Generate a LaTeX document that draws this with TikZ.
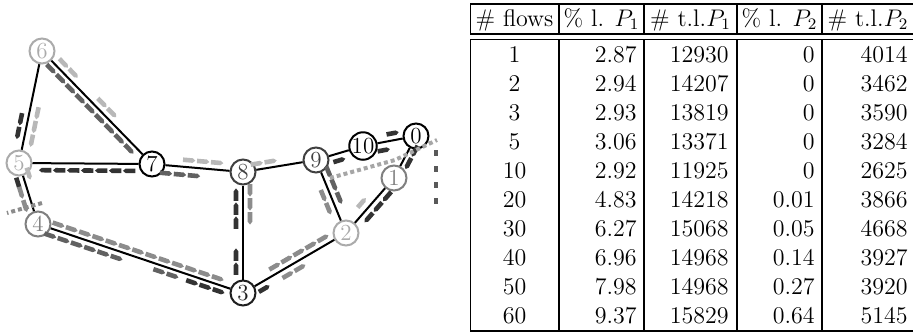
\documentclass[tikz,border=0pt]{standalone}
\usetikzlibrary{calc,decorations.markings}
\tikzset{
  nd/.style={circle, draw, fill=white, line width=1pt, minimum size=12.5pt, inner sep=0pt, font=\fontsize{11.5}{11.5}\selectfont},
  ed/.style={line width=1pt, black},
  arw/.style={decoration={markings, mark=between positions 0 and 1 step 7pt with {\fill[#1] (-3pt,-1.15pt) -- (1.8pt,-1.15pt) -- (3.2pt,0pt) -- (1.8pt,1.15pt) -- (-3pt,1.15pt) -- cycle;}}, decorate},
  fa/.style={arw=black!80},
  fb/.style={arw=black!62},
  fc/.style={arw=black!45},
  fd/.style={arw=black!28},
  fdot/.style={line width=2pt, dash pattern=on 2pt off 1.5pt},
  tl/.style={line width=0.7pt},
  cell/.style={anchor=base, inner sep=0pt, font=\fontsize{12}{14}\selectfont},
  num/.style={anchor=base east, inner sep=0pt, font=\fontsize{12}{14}\selectfont}
}
\newcommand\flw[6]{\path[#1] ($(#2)!#4!(#3)!#6!90:(#3)$) -- ($(#2)!#5!(#3)!#6!90:(#3)$);}
\begin{document}
\begin{tikzpicture}[x=0.5pt,y=-0.5pt]
\useasboundingbox (0,0) rectangle (913,333);
% ---------------- graph nodes
\node[nd, draw=black, text=black] (n0) at (416,136) {0};
\node[nd, draw=black!50, text=black!50] (n1) at (394,178) {1};
\node[nd, draw=black!33, text=black!33] (n2) at (346,233) {2};
\node[nd, draw=black!88, text=black!88] (n3) at (243,293) {3};
\node[nd, draw=black!50, text=black!50] (n4) at (38,224) {4};
\node[nd, draw=black!33, text=black!33] (n5) at (19,163) {5};
\node[nd, draw=black!33, text=black!33] (n6) at (42,51) {6};
\node[nd, draw=black, text=black] (n7) at (152,164) {7};
\node[nd, draw=black!75, text=black!75] (n8) at (243,172) {8};
\node[nd, draw=black!75, text=black!75] (n9) at (316,160) {9};
\node[nd, draw=black, text=black] (n10) at (363,146) {10};
% ---------------- edges
\draw[ed] (n6) -- (n5);
\draw[ed] (n6) -- (n7);
\draw[ed] (n5) -- (n7);
\draw[ed] (n5) -- (n4);
\draw[ed] (n4) -- (n3);
\draw[ed] (n7) -- (n8);
\draw[ed] (n8) -- (n3);
\draw[ed] (n8) -- (n9);
\draw[ed] (n9) -- (n10);
\draw[ed] (n10) -- (n0);
\draw[ed] (n0) -- (n1);
\draw[ed] (n1) -- (n2);
\draw[ed] (n3) -- (n2);
\draw[ed] (n9) -- (n2);
% ---------------- flows
\flw{fb}{n6}{n7}{0.12}{0.88}{-3pt}
\flw{fd}{n6}{n7}{0.15}{0.25}{3.5pt}
\flw{fd}{n6}{n7}{0.5}{0.6}{3.5pt}
\flw{fd}{n6}{n5}{0.54}{0.86}{4pt}
\flw{fa}{n6}{n5}{0.62}{0.84}{-3.5pt}
\flw{fa}{n7}{n5}{0.17}{0.86}{3.5pt}
\flw{fd}{n7}{n8}{0.4}{0.82}{3.5pt}
\flw{fb}{n7}{n8}{0.16}{0.47}{-4pt}
\flw{fd}{n8}{n9}{0.2}{0.55}{3pt}
\flw{fa}{n9}{n10}{0.45}{0.64}{-3.5pt}
\flw{fa}{n10}{n0}{0.58}{0.7}{3.5pt}
\flw{fa}{n10}{n0}{0.36}{0.5}{-4pt}
\flw{fa}{n0}{n1}{0.29}{0.64}{3pt}
\flw{fa}{n1}{n2}{0.25}{0.78}{3.5pt}
\flw{fd}{n2}{n1}{0.45}{0.6}{4pt}
\flw{fb}{n9}{n2}{0.2}{0.7}{3.5pt}
\flw{fc}{n9}{n2}{0.45}{0.7}{-3.5pt}
\flw{fc}{n3}{n2}{0.34}{0.83}{3.5pt}
\flw{fc}{n3}{n2}{0.4}{0.53}{-3.5pt}
\flw{fa}{n3}{n2}{0.17}{0.24}{-3.5pt}
\flw{fc}{n8}{n3}{0.15}{0.4}{3.5pt}
\flw{fa}{n3}{n8}{0.58}{0.85}{3.5pt}
\flw{fa}{n3}{n8}{0.2}{0.42}{3.5pt}
\flw{fc}{n4}{n3}{0.09}{0.93}{3pt}
\flw{fb}{n4}{n3}{0.07}{0.4}{-3.5pt}
\flw{fb}{n4}{n3}{0.6}{0.67}{-3pt}
\flw{fa}{n4}{n3}{0.76}{0.92}{-3pt}
\flw{fa}{n5}{n4}{0.3}{0.45}{-3.5pt}
\flw{fc}{n5}{n4}{0.45}{0.72}{-3.5pt}
\flw{fd}{n5}{n4}{0.2}{0.35}{3pt}
% free flows
\coordinate (e4a) at (42,203);
\coordinate (e4b) at (7,213);
\draw[fdot, draw=black!45] (e4a) -- (e4b);
\coordinate (e9a) at (330,178);
\coordinate (e9b) at (395,160);
\coordinate (e0a) at (437,140);
\draw[fdot, draw=black!35] (e9a) -- (e9b) -- (e0a);
\coordinate (e0c) at (436,150);
\coordinate (e0d) at (436,207);
\draw[line width=2.2pt, dash pattern=on 3pt off 5pt, draw=black!65] (e0c) -- (e0d);
% ---------------- table
\draw[tl] (470,4) -- (913,4);
\draw[tl] (470,34) -- (913,34);
\draw[tl] (470,39.5) -- (913,39.5);
\draw[tl] (470,331) -- (913,331);
\foreach \x in {470.5,559,644,737,822}{
  \draw[tl] (\x,4) -- (\x,34);
  \draw[tl] (\x,39.5) -- (\x,331);
}
\node[cell] (h1) at (514.5,26) {\# flows};
\node[cell] (h2) at (601.5,26) {\% l. $P_1$};
\node[cell] (h3) at (690.5,26) {\# t.l.$P_1$};
\node[cell] (h4) at (779.5,26) {\% l. $P_2$};
\node[cell] (h5) at (868,26) {\# t.l.$P_2$};
\foreach \a/\b/\c/\d/\e [count=\i] in {1/2.87/12930/0/4014, 2/2.94/14207/0/3462, 3/2.93/13819/0/3590, 5/3.06/13371/0/3284, 10/2.92/11925/0/2625, 20/4.83/14218/0.01/3866, 30/6.27/15068/0.05/4668, 40/6.96/14968/0.14/3927, 50/7.98/14968/0.27/3920, 60/9.37/15829/0.64/5145}{
  \node[cell] (r\i a) at (514.5,{62+29*(\i-1)}) {\a};
  \node[num] (r\i b) at (637,{62+29*(\i-1)}) {\b};
  \node[num] (r\i c) at (729,{62+29*(\i-1)}) {\c};
  \node[num] (r\i d) at (815,{62+29*(\i-1)}) {\d};
  \node[num] (r\i e) at (908,{62+29*(\i-1)}) {\e};
}
\end{tikzpicture}
\end{document}
